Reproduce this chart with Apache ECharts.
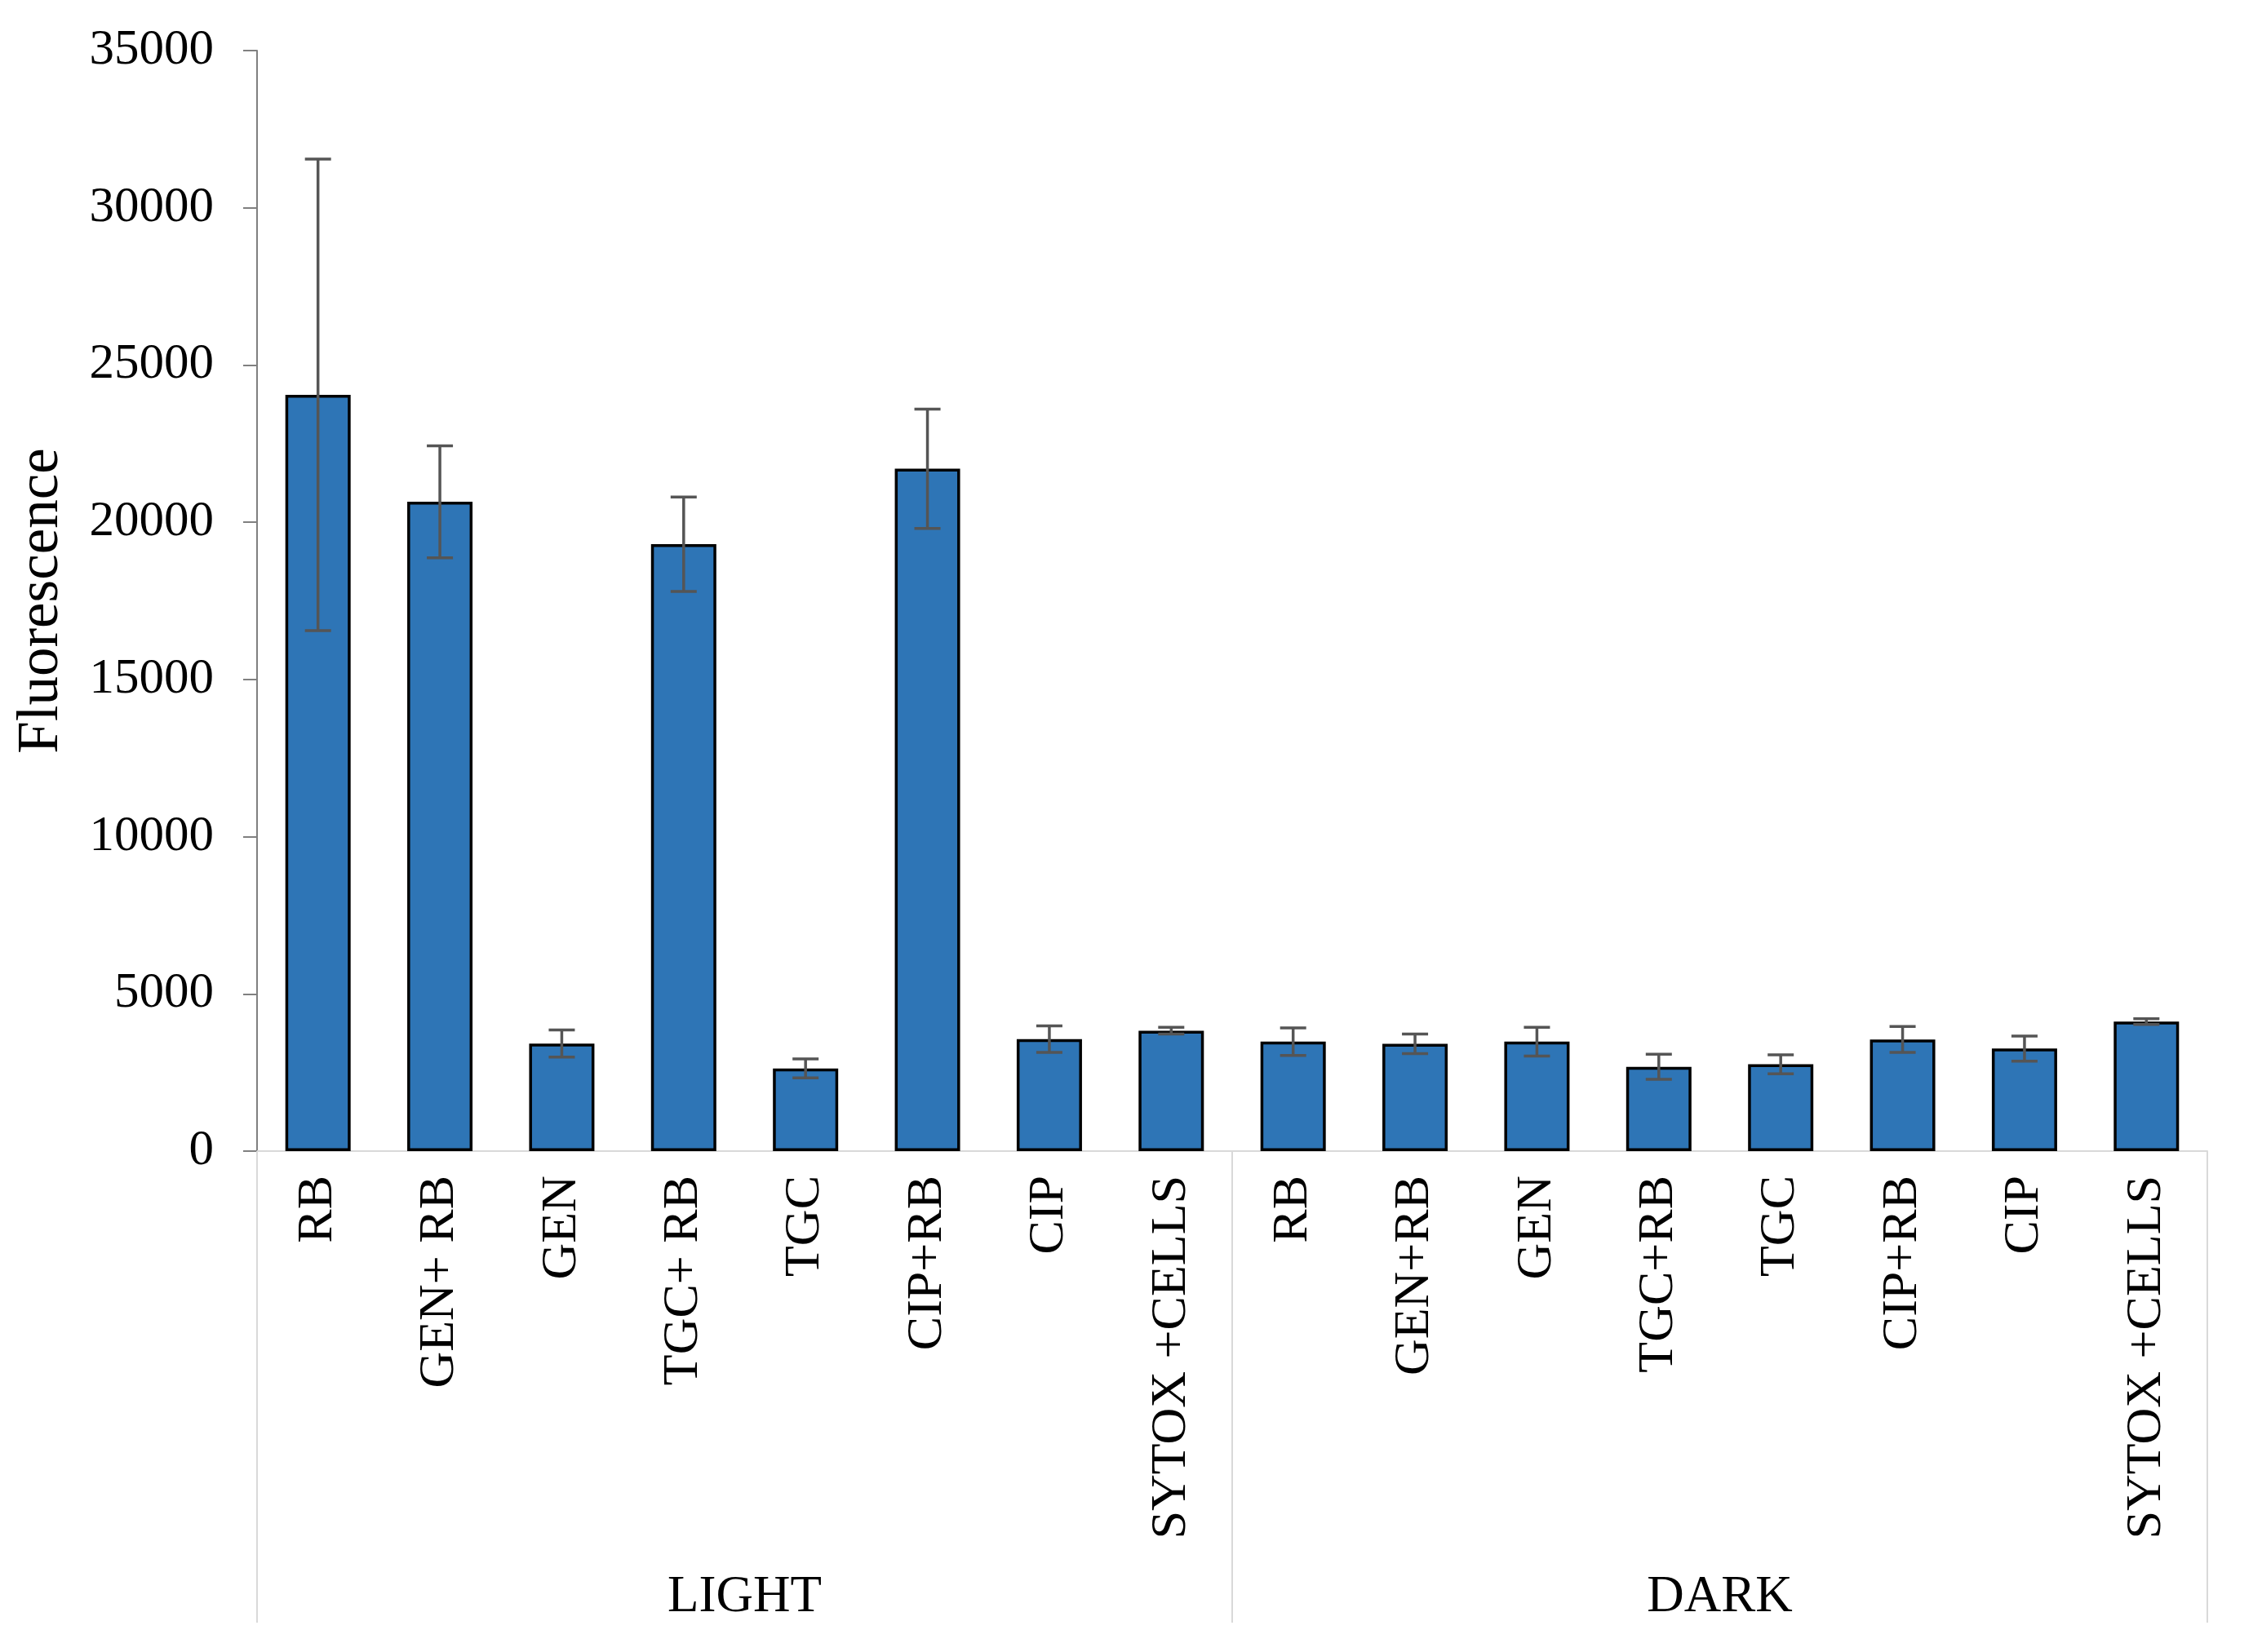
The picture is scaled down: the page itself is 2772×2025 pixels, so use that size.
<!DOCTYPE html>
<html>
<head>
<meta charset="utf-8">
<script src="https://cdn.jsdelivr.net/npm/echarts@6/dist/echarts.min.js"></script>
<style>
html,body{margin:0;padding:0;background:#fff;}
#chart{width:2772px;height:2025px;}
</style>
</head>
<body>
<div id="chart"></div>
<script>
// ---- data ----
var categories = ['RB','GEN+ RB','GEN','TGC+ RB','TGC','CIP+RB','CIP','SYTOX +CELLS',
                  'RB','GEN+RB','GEN','TGC+RB','TGC','CIP+RB','CIP','SYTOX +CELLS'];
var groups = ['LIGHT','DARK'];
var fluorescence = [24050, 20650, 3420, 19300, 2630, 21700, 3560, 3830,
                    3480, 3410, 3480, 2680, 2760, 3550, 3260, 4120];
var errors = [7500, 1780, 430, 1500, 300, 1900, 420, 110,
              440, 310, 460, 400, 300, 410, 400, 90];
var yTicks = {min: 0, max: 35000, interval: 5000};

var errData = fluorescence.map(function(v, i){ return [i, v, errors[i]]; });

var FONT = "'Liberation Serif','DejaVu Serif',serif";
var chart = echarts.init(document.getElementById('chart'), null, {renderer:'canvas'});
chart.setOption({
  backgroundColor: '#ffffff',
  animation: false,
  grid: {left: 315, right: 67, top: 62, bottom: 614},
  xAxis: [{
    type: 'category',
    data: categories,
    gridIndex: 0,
    position: 'bottom',
    axisLine: {show: true, lineStyle: {color: '#d9d9d9', width: 2}},
    axisTick: {show: false},
    axisLabel: {rotate: 90, margin: 30, fontFamily: FONT, fontSize: 62, color: '#000', interval: 0}
  }, {
    type: 'category',
    data: groups,
    gridIndex: 0,
    position: 'bottom',
    axisLine: {show: false},
    axisTick: {show: true, length: 578, lineStyle: {color: '#d9d9d9', width: 2}},
    axisLabel: {margin: 516, fontFamily: FONT, fontSize: 63, color: '#000'}
  }],
  yAxis: {
    type: 'value',
    min: yTicks.min, max: yTicks.max, interval: yTicks.interval,
    name: 'Fluorescence',
    nameLocation: 'middle',
    nameGap: 228,
    nameTextStyle: {fontFamily: FONT, fontSize: 71, color: '#000'},
    axisLine: {show: true, lineStyle: {color: '#808080', width: 2}},
    axisTick: {show: true, length: 17, lineStyle: {color: '#808080', width: 2}},
    axisLabel: {margin: 53, fontFamily: FONT, fontSize: 61, color: '#000',
                formatter: function(v){ return String(v); }},
    splitLine: {show: false}
  },
  series: [{
    type: 'bar',
    xAxisIndex: 0,
    data: fluorescence,
    barWidth: 80,
    itemStyle: {color: '#2E75B6', borderColor: '#000', borderWidth: 3.5}
  }, {
    type: 'custom',
    xAxisIndex: 0,
    data: errData,
    z: 10,
    renderItem: function(params, api){
      var x = api.value(0), v = api.value(1), e = api.value(2);
      var hi = api.coord([x, v + e]);
      var lo = api.coord([x, v - e]);
      var hw = 16;
      var st = {stroke: '#555555', lineWidth: 3.5};
      return {type: 'group', children: [
        {type: 'line', shape: {x1: hi[0], y1: hi[1], x2: lo[0], y2: lo[1]}, style: st},
        {type: 'line', shape: {x1: hi[0]-hw, y1: hi[1], x2: hi[0]+hw, y2: hi[1]}, style: st},
        {type: 'line', shape: {x1: lo[0]-hw, y1: lo[1], x2: lo[0]+hw, y2: lo[1]}, style: st}
      ]};
    }
  }]
});
</script>
</body>
</html>
